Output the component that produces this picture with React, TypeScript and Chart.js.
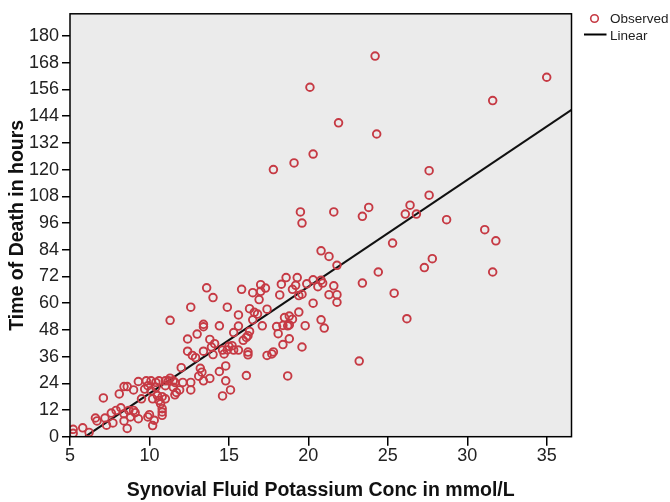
import React, { useEffect, useRef } from "react";
import { Chart, registerables } from "chart.js";

Chart.register(...registerables);

// Observed data (Synovial Fluid Potassium Conc in mmol/L vs Time of Death in hours)
const potassium: number[] = [
  24.2, 35.0, 20.1, 31.6, 21.9, 24.3, 20.3, 19.1, 17.8, 27.6, 27.6, 23.8, 26.4, 19.5, 21.6, 23.4, 26.1, 26.8,
  19.6, 28.7, 31.1, 31.8, 25.3, 20.8, 21.3, 21.8, 27.8, 27.3, 31.6, 24.4, 23.4, 25.4, 26.2, 23.2,
  18.6, 19.3, 20.3, 20.8, 20.9, 19.9, 19.2, 18.3, 20.6, 21.6, 19.0, 19.6, 19.4, 18.2, 21.3, 21.8, 21.8, 20.3,
  17.0, 17.0, 17.3, 16.9, 16.5, 15.8, 19.4, 18.8, 18.5, 19.0, 18.0, 18.4, 18.7, 18.8, 19.8, 20.8, 21.0, 18.1,
  18.8, 18.4, 19.6, 18.7, 17.8, 17.7, 17.4,
  17.4, 16.3, 16.6, 16.8, 15.6, 16.5, 17.1, 15.6, 15.3, 16.3, 16.2, 16.1, 15.9, 15.2, 15.3, 15.6, 16.2, 16.2,
  16.1, 14.9, 14.4, 14.0, 13.6, 12.6, 11.3, 13.4, 13.4, 13.0, 13.8, 12.4, 14.1, 13.9, 14.6, 14.7, 14.0, 13.4,
  12.4, 12.7, 12.9, 14.8, 14.4, 14.8, 15.1, 14.6, 12.0, 13.2, 13.3, 13.1, 13.8, 13.4, 12.6, 12.6, 12.1, 11.6,
  11.2, 11.5, 11.6, 11.7, 11.9,
  5.2, 5.2, 5.8, 6.2, 6.6, 6.7, 7.1, 7.2, 7.3, 7.6, 7.7, 7.9, 8.1, 8.2, 8.4, 8.4, 8.6, 8.6, 8.7, 8.8, 9.0, 9.1,
  9.3, 9.3, 9.5, 9.7, 9.8, 9.9, 9.9, 10.0, 10.1, 10.1, 10.2, 10.2, 10.3, 10.4, 10.4, 10.5, 10.6, 10.6, 10.7,
  10.8, 10.8, 10.8, 10.8, 11.0, 11.0, 11.0, 11.3, 11.5, 9.0, 8.4, 15.0, 14.9,
];

const hours: number[] = [
  171, 161.5, 157, 151, 141, 136, 127, 123, 120, 119.5, 108.5, 103, 104, 101, 101, 99, 100, 100,
  96, 97.5, 93, 88, 87, 83.5, 81, 77, 80, 76, 74, 74, 69, 64.5, 53, 34,
  71.5, 71.5, 70.5, 70.3, 69, 68.7, 68, 68.5, 67.4, 67.8, 66.2, 64, 63.4, 63.7, 63.8, 63.8, 60.4, 60,
  68.3, 65.3, 66.8, 61.6, 64.7, 66.2, 56, 54.2, 53.5, 52.8, 49.5, 50, 49.8, 50.2, 49.9, 52.5, 48.8, 46.3,
  44, 41.4, 40.3, 27.3, 38.1, 37.2, 36.5,
  57.3, 57.5, 55.9, 55.1, 54.7, 52.5, 49.8, 49.7, 46.8, 47.3, 45.4, 44.6, 43.3, 40.9, 38.9, 38.9, 38, 36.8,
  27.5, 58.2, 49.8, 62.5, 66.9, 58.2, 52.3, 50.5, 49.4, 46.1, 43.7, 43.9, 41.8, 40.3, 38.9, 37.2, 36.9, 38.4,
  38.4, 36.5, 35.5, 31.8, 29.3, 25.1, 21, 18.3, 31, 30.7, 29, 27.2, 26.2, 25.1, 21, 24.4, 24.4, 24.4,
  25.1, 22.2, 18.8, 19.9, 21,
  3.3, 1.5, 4, 1.9, 8.4, 7.1, 17.4, 8.4, 5.2, 10.6, 6.2, 11.8, 19.2, 13, 10.3, 7.1, 22.5, 3.7, 11.8, 8.9, 21, 10.8,
  24.8, 8.1, 17, 21.4, 25.1, 8.9, 22.9, 9.9, 20.7, 25.1, 17, 5, 7.4, 22.2, 24.4, 18.5, 16.3, 25.1, 14.8,
  12.6, 11.1, 9.6, 18, 17, 22.9, 25.1, 26.3, 25.1, 11.8, 22.5, 40.6, 39.0,
];

// Linear fit
const FIT_SLOPE = 4.8;
const FIT_INTERCEPT = -28.6;

// Axes
const X_MIN = 5;
const X_MAX = 36.56;
const Y_MIN = 0;
const Y_MAX = 190;
const X_TICKS: number[] = [5, 10, 15, 20, 25, 30, 35];
const Y_TICKS: number[] = [0, 12, 24, 36, 48, 60, 72, 84, 96, 108, 120, 132, 144, 156, 168, 180];

const X_TITLE = "Synovial Fluid Potassium Conc in mmol/L";
const Y_TITLE = "Time of Death in hours";
const LEGEND_LABELS: string[] = ["Observed", "Linear"];

const POINT_COLOR = "#c63a44";
const PLOT_BG = "#ebebeb";
const FONT = "'Liberation Sans', Arial, sans-serif";

export default function App() {
  const ref = useRef<HTMLCanvasElement | null>(null);

  useEffect(() => {
    if (!ref.current) return;
    const observed = potassium.map((x, i) => ({ x, y: hours[i] }));
    const xStart = -FIT_INTERCEPT / FIT_SLOPE;
    const fit = [
      { x: xStart, y: FIT_SLOPE * xStart + FIT_INTERCEPT },
      { x: X_MAX, y: FIT_SLOPE * X_MAX + FIT_INTERCEPT },
    ];

    const framePlugin = {
      id: "frame",
      beforeDatasetsDraw(chart: any) {
        const { ctx, chartArea: a } = chart;
        ctx.save();
        ctx.fillStyle = PLOT_BG;
        ctx.fillRect(a.left, a.top, a.right - a.left, a.bottom - a.top);
        ctx.restore();
      },
      afterDraw(chart: any) {
        const { ctx, chartArea: a } = chart;
        ctx.save();
        ctx.strokeStyle = "#000";
        ctx.lineWidth = 1.5;
        ctx.strokeRect(a.left, a.top, a.right - a.left, a.bottom - a.top);
        // legend
        const lx = a.right + 23;
        ctx.beginPath();
        ctx.arc(lx, 18.5, 3.8, 0, Math.PI * 2);
        ctx.strokeStyle = POINT_COLOR;
        ctx.lineWidth = 1.6;
        ctx.stroke();
        ctx.beginPath();
        ctx.moveTo(a.right + 12.5, 34.5);
        ctx.lineTo(a.right + 35, 34.5);
        ctx.strokeStyle = "#000";
        ctx.lineWidth = 2;
        ctx.stroke();
        ctx.fillStyle = "#222";
        ctx.font = `13.5px ${FONT}`;
        ctx.textBaseline = "middle";
        ctx.textAlign = "left";
        ctx.fillText(LEGEND_LABELS[0], a.right + 38.5, 19);
        ctx.fillText(LEGEND_LABELS[1], a.right + 38.5, 36);
        ctx.restore();
      },
    };

    const chart = new Chart(ref.current, {
      type: "scatter",
      data: {
        datasets: [
          {
            type: "scatter",
            label: LEGEND_LABELS[0],
            data: observed,
            pointRadius: 3.8,
            pointHoverRadius: 3.8,
            pointBorderWidth: 1.9,
            borderColor: POINT_COLOR,
            backgroundColor: "rgba(0,0,0,0)",
            pointStyle: "circle",
          } as any,
          {
            type: "line",
            label: LEGEND_LABELS[1],
            data: fit,
            borderColor: "#111",
            borderWidth: 2,
            pointRadius: 0,
            fill: false,
            showLine: true,
          } as any,
        ],
      },
      plugins: [framePlugin],
      options: {
        responsive: false,
        animation: false,
        events: [],
        layout: { padding: { left: 0, top: 9.5, right: 98.5, bottom: 0 } },
        plugins: {
          legend: { display: false },
          tooltip: { enabled: false },
        },
        scales: {
          x: {
            type: "linear",
            min: X_MIN,
            max: X_MAX,
            afterBuildTicks: (s: any) => {
              s.ticks = X_TICKS.map((v) => ({ value: v }));
            },
            afterFit: (s: any) => {
              s.height = 65.3;
            },
            border: { display: false },
            grid: { drawOnChartArea: false, drawTicks: true, tickLength: 9, color: "#000", lineWidth: 1.5 },
            ticks: { color: "#222", padding: 0, font: { family: FONT, size: 18 }, maxRotation: 0 },
            title: {
              display: true,
              text: X_TITLE,
              color: "#111",
              font: { family: FONT, size: 19.5, weight: "bold" },
              padding: { top: 0, bottom: 0 },
            },
          },
          y: {
            type: "linear",
            min: Y_MIN,
            max: Y_MAX,
            afterBuildTicks: (s: any) => {
              s.ticks = Y_TICKS.map((v) => ({ value: v }));
            },
            afterFit: (s: any) => {
              s.width = 70;
            },
            border: { display: false },
            grid: { drawOnChartArea: false, drawTicks: true, tickLength: 8, color: "#000", lineWidth: 1.5 },
            ticks: { color: "#222", padding: 3, font: { family: FONT, size: 18 } },
            title: {
              display: true,
              text: Y_TITLE,
              color: "#111",
              font: { family: FONT, size: 19.5, weight: "bold" },
              padding: { top: 6, bottom: 0 },
            },
          },
        },
      } as any,
    });
    return () => chart.destroy();
  }, []);

  return (
    <div style={{ position: "fixed", left: 0, top: 0, width: 670, height: 502, background: "#fff" }}>
      <canvas ref={ref} width={670} height={502} style={{ display: "block", width: 670, height: 502 }} />
    </div>
  );
}
